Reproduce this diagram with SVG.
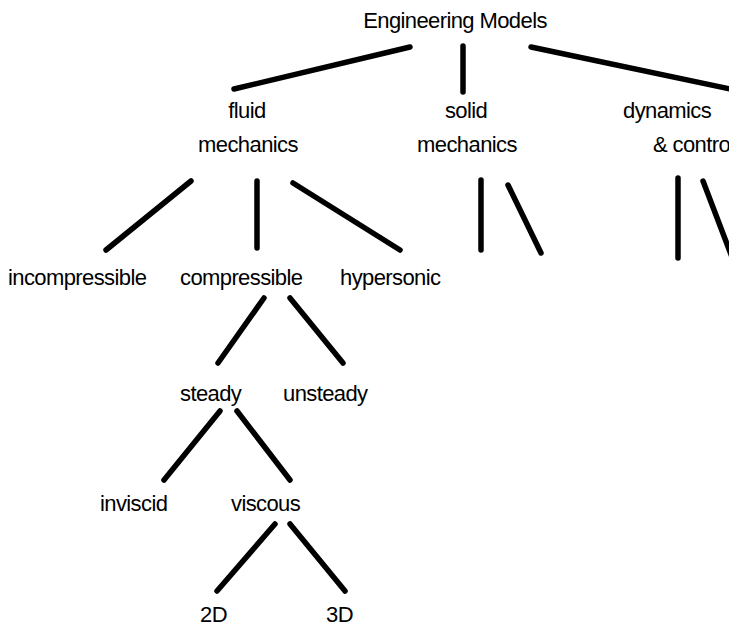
<svg xmlns="http://www.w3.org/2000/svg" width="729" height="634" viewBox="0 0 729 634">
  <style>
    .lbl { font-family: "Liberation Sans", Arial, Helvetica, sans-serif; font-size: 22px; letter-spacing: -0.6px; fill: #000; }
    .edge { stroke: #000; stroke-width: 5.5; stroke-linecap: round; fill: none; }
  </style>
  <rect width="729" height="634" fill="#fff"/>

  <g id="connectors">
    <line class="edge" x1="410" y1="47" x2="234" y2="89"/>
    <line class="edge" x1="463" y1="46" x2="463" y2="92"/>
    <line class="edge" x1="531" y1="47" x2="735" y2="90"/>

    <line class="edge" x1="191" y1="181" x2="106" y2="250"/>
    <line class="edge" x1="257" y1="181" x2="257" y2="248"/>
    <line class="edge" x1="293" y1="183" x2="400" y2="250"/>

    <line class="edge" x1="481" y1="180" x2="481" y2="250"/>
    <line class="edge" x1="508" y1="185" x2="541" y2="253"/>

    <line class="edge" x1="678" y1="178" x2="678" y2="258"/>
    <line class="edge" x1="703" y1="181" x2="735" y2="265"/>

    <line class="edge" x1="264" y1="298" x2="218" y2="363"/>
    <line class="edge" x1="290" y1="298" x2="343" y2="363"/>

    <line class="edge" x1="220" y1="411" x2="164" y2="480"/>
    <line class="edge" x1="237" y1="411" x2="290" y2="480"/>

    <line class="edge" x1="275" y1="524" x2="217" y2="591"/>
    <line class="edge" x1="290" y1="524" x2="345" y2="591"/>
  </g>

  <g id="engineering-models"><text class="lbl" x="455" y="28" text-anchor="middle">Engineering Models</text></g>
  <g id="fluid-mechanics">
    <text class="lbl" x="247" y="118" text-anchor="middle">fluid</text>
    <text class="lbl" x="248" y="152" text-anchor="middle">mechanics</text>
  </g>
  <g id="solid-mechanics">
    <text class="lbl" x="466" y="118" text-anchor="middle">solid</text>
    <text class="lbl" x="467" y="152" text-anchor="middle">mechanics</text>
  </g>
  <g id="dynamics-control">
    <text class="lbl" x="623" y="118">dynamics</text>
    <text class="lbl" x="653" y="152">&amp; control</text>
  </g>
  <g id="incompressible"><text class="lbl" x="8" y="285">incompressible</text></g>
  <g id="compressible"><text class="lbl" x="180" y="285">compressible</text></g>
  <g id="hypersonic"><text class="lbl" x="340" y="285">hypersonic</text></g>
  <g id="steady"><text class="lbl" x="180" y="401">steady</text></g>
  <g id="unsteady"><text class="lbl" x="283" y="401">unsteady</text></g>
  <g id="inviscid"><text class="lbl" x="100" y="511">inviscid</text></g>
  <g id="viscous"><text class="lbl" x="231" y="511">viscous</text></g>
  <g id="two-d"><text class="lbl" x="200" y="622">2D</text></g>
  <g id="three-d"><text class="lbl" x="326" y="622">3D</text></g>
</svg>
